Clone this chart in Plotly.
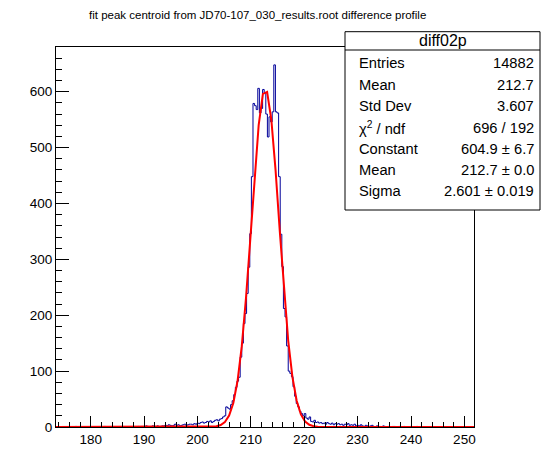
import math
import plotly.graph_objects as go

# ---------------- data ----------------
X_MIN = 173.5
BIN_WIDTH = 0.3
N_BINS = 261

left_tail = ([0] * 12 + [1] + [0] * 17 + [1] + [0] * 10 + [1] + [0] * 8 +
             [0, 1, 0, 1, 1, 0, 2, 1, 0, 1, 2, 1, 1, 2, 0, 1, 2] +
             [2, 3, 2, 4, 3, 2, 3, 5, 3, 4, 2, 3, 4, 5, 3, 4, 5] +
             [5, 4, 6, 5, 7, 6, 8, 9, 7, 8, 10, 9, 11, 8, 10, 12, 13, 11, 14, 15, 18])
rise = [20, 36, 34, 32, 40, 47, 58, 71, 82, 89, 125, 150, 185, 203, 239, 286, 346, 448]
plateau = [579, 575, 568, 606, 562, 570, 604, 598, 560, 519, 555, 546, 564, 648, 564, 562]
fall = [448, 345, 287, 212, 197, 145, 100, 96, 90, 72, 55, 42, 36, 28, 24, 20, 24, 16,
        14, 18, 10, 9, 12, 8]
right_tail = ([9, 7, 8, 6, 7, 5, 8, 6, 5, 7, 4, 6, 5, 6, 4, 5, 3, 5, 4, 6, 3, 4, 3, 5, 2] +
              [3, 2, 4, 2, 1, 3, 2, 1, 2, 3, 1, 0, 2, 1, 1, 0, 2] +
              [1, 0, 1, 0, 0, 1, 1, 0, 0, 1, 0, 0, 1, 0, 0, 0, 1, 0, 0, 0, 1])
counts = left_tail + rise + plateau + fall + right_tail
counts = counts + [0] * (N_BINS - len(counts))

fit_constant = 604.9
fit_mean = 212.7
fit_sigma = 2.601

stats_title = "diff02p"
stats_labels = ["Entries", "Mean", "Std Dev", "χ<sup>2</sup> / ndf", "Constant", "Mean", "Sigma"]
stats_values = ["14882", "212.7", "3.607", "696 / 192", "604.9 ± 6.7", "212.7 ± 0.0", "2.601 ± 0.019"]

title_text = "fit peak centroid from JD70-107_030_results.root difference profile"

# ---------------- figure ----------------
X_MAX = X_MIN + BIN_WIDTH * N_BINS
edges = [X_MIN + BIN_WIDTH * i for i in range(N_BINS + 1)]
step_y = counts + [counts[-1]]

npx = 100
fx = [X_MIN + (X_MAX - X_MIN) * i / (npx - 1) for i in range(npx)]
fy = [fit_constant * math.exp(-0.5 * ((x - fit_mean) / fit_sigma) ** 2) for x in fx]

W, H = 558, 474
L, R, T, B = 56, 84, 47, 47
PW, PH = W - L - R, H - T - B

def px(xp):
    return (xp - L) / PW

def py(yp):
    return (H - B - yp) / PH

FONT = "Liberation Sans, Arial, sans-serif"

fig = go.Figure()
fig.add_trace(go.Scatter(x=edges, y=step_y, mode="lines", line=dict(color="#000099", width=1, shape="hv"),
                         hoverinfo="skip", showlegend=False))
fig.add_trace(go.Scatter(x=fx, y=fy, mode="lines", line=dict(color="#ff0000", width=2),
                         hoverinfo="skip", showlegend=False))

# stats box
bx0, bx1, by0, by1, bsep = 345, 540, 31.7, 210, 50
fig.add_shape(type="rect", xref="paper", yref="paper", x0=px(bx0), x1=px(bx1), y0=py(by1), y1=py(by0),
              line=dict(color="black", width=1), fillcolor="white", layer="above")
fig.add_shape(type="line", xref="paper", yref="paper", x0=px(bx0), x1=px(bx1), y0=py(bsep), y1=py(bsep),
              line=dict(color="black", width=1), layer="above")

ann = []
ann.append(dict(text=stats_title, x=px((bx0 + bx1) / 2), y=py(41), xref="paper", yref="paper",
                showarrow=False, xanchor="center", yanchor="middle", font=dict(family=FONT, size=16, color="black")))
row_y = [63.3, 85.3, 106.3, 127.5, 148.6, 169.8, 191]
for lab, val, ry in zip(stats_labels, stats_values, row_y):
    ann.append(dict(text=lab, x=px(356.5), y=py(ry), xref="paper", yref="paper", showarrow=False,
                    xanchor="left", yanchor="middle", font=dict(family=FONT, size=14.7, color="black")))
    ann.append(dict(text=val, x=px(535.5), y=py(ry), xref="paper", yref="paper", showarrow=False,
                    xanchor="right", yanchor="middle", font=dict(family=FONT, size=14.7, color="black")))
ann.append(dict(text=title_text, x=px(257), y=py(15), xref="paper", yref="paper", showarrow=False,
                xanchor="center", yanchor="middle", font=dict(family=FONT, size=11.5, color="black")))

fig.update_layout(
    width=W, height=H,
    margin=dict(l=L, r=R, t=T, b=B, pad=0),
    paper_bgcolor="white", plot_bgcolor="white",
    annotations=ann,
    xaxis=dict(range=[X_MIN, X_MAX], showgrid=False, zeroline=False, showline=True, linecolor="black",
               linewidth=1, mirror=True, ticks="inside", ticklen=11, tickwidth=1, tickcolor="black",
               tick0=180, dtick=10, tickfont=dict(family=FONT, size=13.5, color="black"),
               minor=dict(ticks="inside", ticklen=5.5, dtick=2, tick0=180, tickcolor="black", tickwidth=1, showgrid=False)),
    yaxis=dict(range=[0, 680], showgrid=False, zeroline=False, showline=True, linecolor="black",
               linewidth=1, mirror=True, ticks="inside", ticklen=12.5, tickwidth=1, tickcolor="black",
               tick0=0, dtick=100, tickfont=dict(family=FONT, size=13.5, color="black"),
               minor=dict(ticks="inside", ticklen=6.3, dtick=20, tick0=0, tickcolor="black", tickwidth=1, showgrid=False)),
)

fig.write_html("out.html", config={"displayModeBar": False, "staticPlot": True},
               post_script="document.body.style.margin='0px';document.body.style.padding='0px';")
